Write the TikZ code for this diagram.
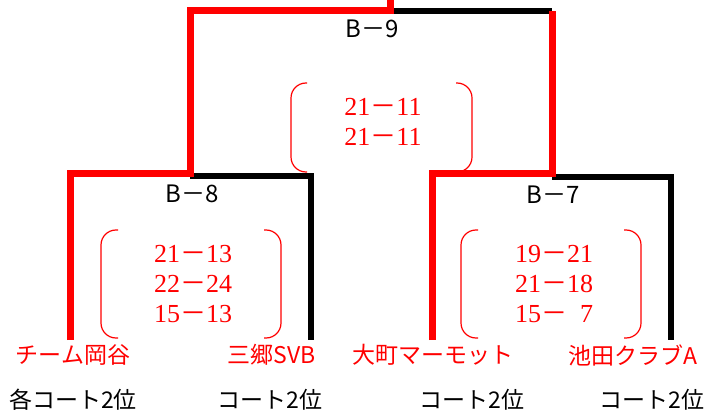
\documentclass[tikz,border=0pt]{standalone}
\usepackage{fontspec}
\usepackage{xcolor}
\newfontfamily\jpfont{Noto Sans CJK JP}
\newfontfamily\scorefont{Liberation Serif}
\definecolor{winred}{HTML}{FF0000}
\newcommand{\zdash}{{\jpfont －}}
\tikzset{
  winline/.style={line width=7pt, draw=winred},
  loseline/.style={line width=6pt, draw=black},
  paren/.style={draw=winred, line width=1.2pt, rounded corners=15pt},
  matchlabel/.style={font=\jpfont\fontsize{24pt}{28pt}\selectfont, inner sep=0pt},
  teamlabel/.style={font=\jpfont\fontsize{23pt}{27pt}\selectfont, text=winred, inner sep=0pt},
  ranklabel/.style={font=\jpfont\fontsize{23pt}{27pt}\selectfont, inner sep=0pt},
  score/.style={font=\scorefont\fontsize{26pt}{30pt}\selectfont, text=winred, align=center, inner sep=0pt}
}

\begin{document}
\begin{tikzpicture}[x=1pt, y=-1pt]
    \useasboundingbox (0,0) rectangle (707,412);

    % line ends above the teams
    \coordinate (okayatop) at (70,340);
    \coordinate (misatotop) at (311,340);
    \coordinate (omachitop) at (432,340);
    \coordinate (ikedatop) at (671,340);
    \coordinate (b8) at (190,173);
    \coordinate (b7) at (552,173);
    \coordinate (b9) at (390,11);
    \coordinate (top) at (390,0);

    % losing lines
    \draw[loseline] (b8 |- 0,176) -- (misatotop |- 0,176) -- (misatotop);
    \draw[loseline] (b7 |- 0,177) -- (ikedatop |- 0,177) -- (ikedatop);
    \draw[loseline] (b9) -- (b7 |- b9);

    % winning lines
    \draw[winline] (okayatop) -- (okayatop |- b8) -- (b8) -- (b8 |- b9) -- (b9) -- (top);
    \draw[winline] (omachitop) -- (omachitop |- b7) -- (b7) -- (b7 |- b9);

    % match labels
    \node[matchlabel] (lb9) at (372,29) {B－9};
    \node[matchlabel] (lb8) at (192,194) {B－8};
    \node[matchlabel] (lb7) at (553,195) {B－7};

    % B-9 score
    \node[score] (s9) at (383,122) {21\zdash11\\21\zdash11};
    \draw[paren] (307,83) -- (291,83) -- (291,172) -- (307,172);
    \draw[paren] (456,83) -- (472,83) -- (472,172) -- (456,172);

    % B-8 score
    \node[score] (s8) at (193,284) {21\zdash13\\22\zdash24\\15\zdash13};
    \draw[paren] (118,230) -- (101,230) -- (101,338) -- (118,338);
    \draw[paren] (264,230) -- (281,230) -- (281,338) -- (264,338);

    % B-7 score
    \node[score] (s7) at (554,284) {19\zdash21\\21\zdash18\\15\zdash\hphantom{1}7};
    \draw[paren] (478,230) -- (461,230) -- (461,338) -- (478,338);
    \draw[paren] (624,230) -- (641,230) -- (641,338) -- (624,338);

    % teams
    \node[teamlabel] (okaya) at (73,355) {チーム岡谷};
    \node[teamlabel] (misato) at (272,355) {三郷SVB};
    \node[teamlabel] (omachi) at (433,355) {大町マーモット};
    \node[teamlabel] (ikeda) at (633,355) {池田クラブA};

    % ranks
    \node[ranklabel] (rank1) at (73,400) {各コート2位};
    \node[ranklabel] (rank2) at (270,400) {コート2位};
    \node[ranklabel] (rank3) at (472,400) {コート2位};
    \node[ranklabel] (rank4) at (652,400) {コート2位};
\end{tikzpicture}
\end{document}
